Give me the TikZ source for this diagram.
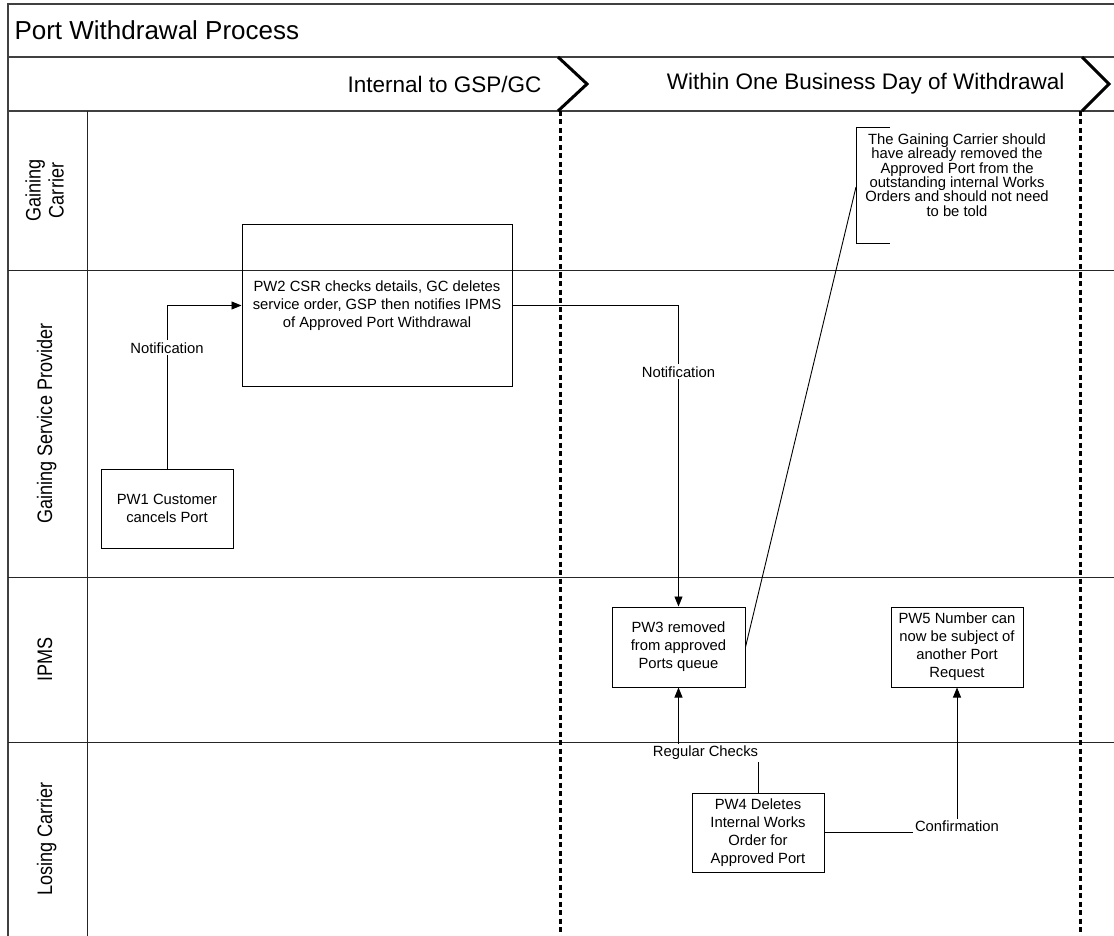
\documentclass[tikz,border=0pt]{standalone}
\usepackage{graphicx}
\usepackage{fontspec}
\setmainfont{Liberation Sans}
\usetikzlibrary{arrows.meta}

\newcommand{\lanename}[1]{\scalebox{0.86}[1]{\begin{tabular}{@{}c@{}}#1\end{tabular}}}

\begin{document}
\begin{tikzpicture}[x=1pt,y=-1pt,
        frame/.style={draw=black!75,line width=1.3pt},
        lane/.style={draw=black!85,line width=1pt},
        stepbox/.style={draw,line width=1pt,align=center,inner sep=0pt,
            font=\fontsize{14.8}{18}\selectfont},
        flow/.style={line width=0.9pt,-{Triangle[length=10pt,width=8pt]}},
        link/.style={line width=0.9pt},
        lbl/.style={fill=white,inner sep=2pt,font=\fontsize{14.8}{18}\selectfont},
        lanetext/.style={rotate=90,font=\fontsize{21}{23}\selectfont},
        phase/.style={anchor=east,font=\fontsize{22.5}{26}\selectfont},
        milestone/.style={line width=3pt,dash pattern=on 5pt off 3.5pt},
        chevron/.style={line width=3pt,line join=miter}]
    \useasboundingbox (0,0) rectangle (1114,936);

    % pool frame and lanes
    \draw[frame] (1114,4) -- (8,4) -- (8,940);
    \draw[frame] (8,57) -- (1114,57);
    \draw[frame] (8,111) -- (1114,111);
    \foreach \y in {270,577,742}
        \draw[lane] (8,\y) -- (1114,\y);
    \draw[lane] (87,111) -- (87,940);

    \node[anchor=west,font=\fontsize{26}{30}\selectfont] (title) at (11,30) {Port Withdrawal Process};

    % phases
    \node[phase] (internal) at (545,84) {Internal to GSP/GC};
    \node[phase] (oneday) at (1068,84) {Within One Business Day of Withdrawal};
    \draw[milestone] (560,111) -- (560,940);
    \draw[milestone] (1080,111) -- (1080,940);
    \draw[chevron] (558,57) -- (587,84) -- (558,111);
    \draw[chevron] (1082,57) -- (1109,84) -- (1082,111);

    % lane names
    \node[lanetext] (gc) at (47.5,190.5) {\lanename{Gaining\\Carrier}};
    \node[lanetext] (gsp) at (47.5,423.5) {\lanename{Gaining Service Provider}};
    \node[lanetext] (ipms) at (47.5,659.5) {\lanename{IPMS}};
    \node[lanetext] (lc) at (47.5,839) {\lanename{Losing Carrier}};

    % steps
    \node[stepbox,minimum width=132pt,minimum height=79pt] (pw1) at (167,508.5)
        {PW1 Customer\\cancels Port};
    \node[stepbox,minimum width=270pt,minimum height=161pt] (pw2) at (377,305.5)
        {PW2 CSR checks details, GC deletes\\service order, GSP then notifies IPMS\\of Approved Port Withdrawal};
    \node[stepbox,minimum width=133pt,minimum height=80pt] (pw3) at (678.5,647)
        {PW3 removed\\from approved\\Ports queue};
    \node[stepbox,minimum width=132pt,minimum height=79pt] (pw4) at (758,832.5)
        {PW4 Deletes\\Internal Works\\Order for\\Approved Port};
    \node[stepbox,minimum width=132pt,minimum height=80pt] (pw5) at (957,647)
        {PW5 Number can\\now be subject of\\another Port\\Request};

    % annotation
    \node[align=center,inner sep=0pt,font=\fontsize{14.8}{14.4}\selectfont] (note) at (957,175)
        {The Gaining Carrier should\\have already removed the\\Approved Port from the\\outstanding internal Works\\Orders and should not need\\to be told};
    \draw[link] (890,127) -- (856,127) -- (856,243) -- (890,243);
    \coordinate (notepin) at (856,187);
    \draw[link] (pw3.east) -- (notepin);

    % flows
    \draw[flow] (pw1.north) |- node[lbl,pos=0.37] {Notification} (pw2.west);
    \draw[flow] (pw2.east) -| node[lbl,pos=0.61] {Notification} (pw3.north);
    \coordinate (rc) at (758,753);
    \draw[flow] (pw4.north) -- (rc) -| node[lbl,pos=0.33] {Regular Checks} (pw3.south);
    \draw[flow] (pw4.east) -| node[lbl,pos=0.5,yshift=6pt] {Confirmation} (pw5.south);
\end{tikzpicture}
\end{document}
